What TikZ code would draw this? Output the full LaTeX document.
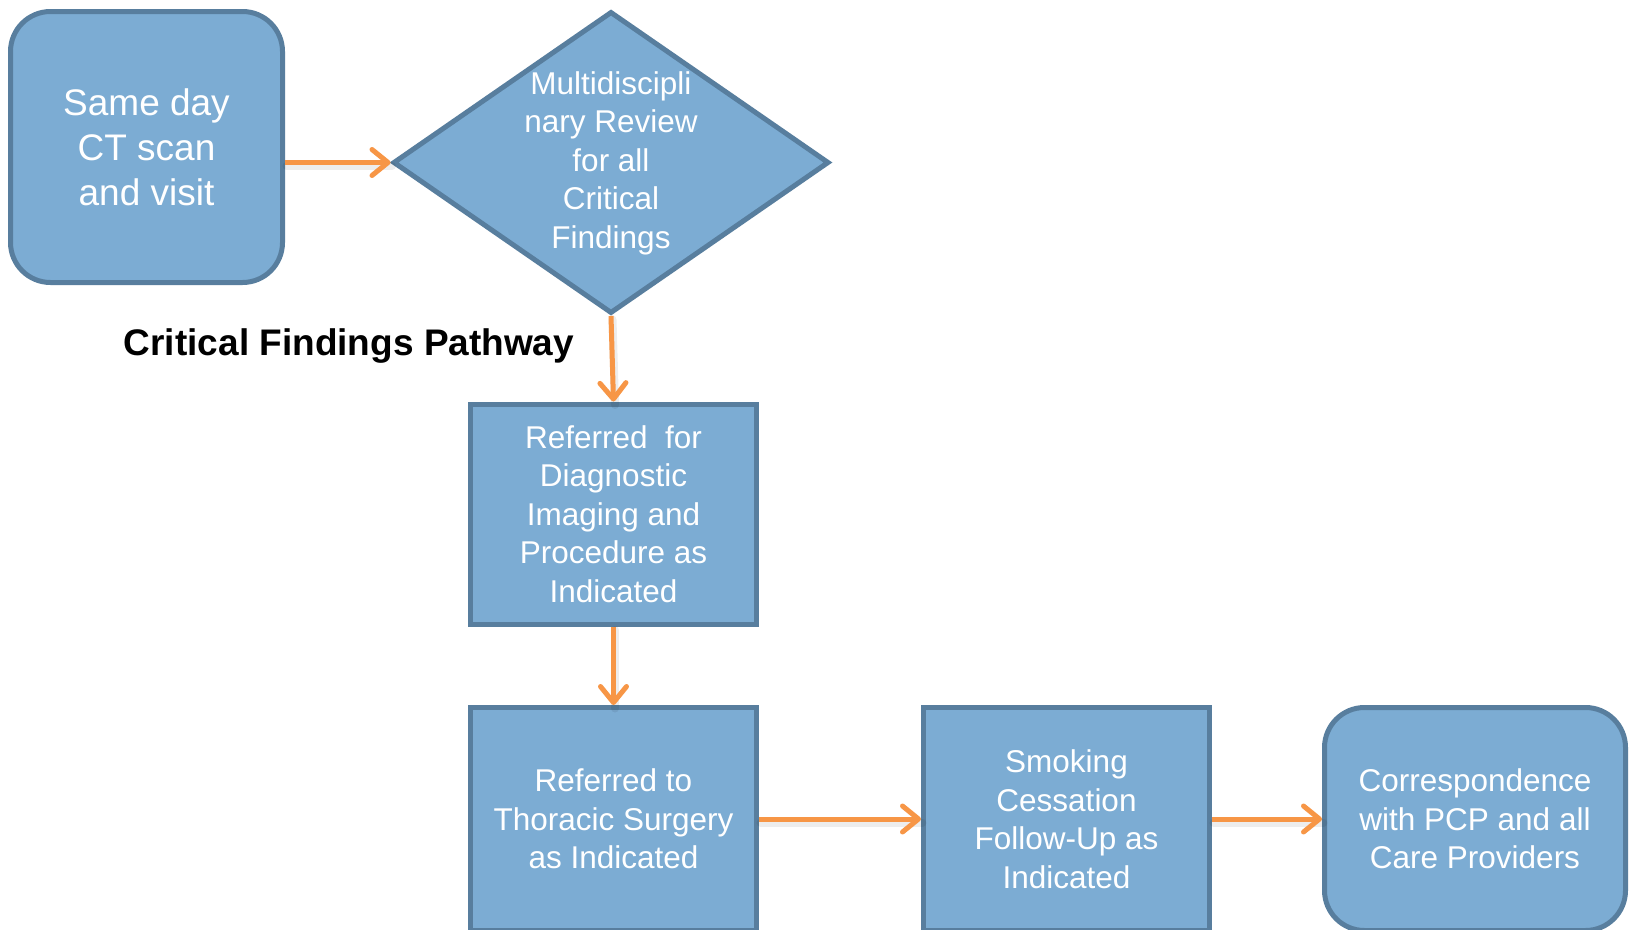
\documentclass[tikz,border=0pt]{standalone}
\usepackage{fontspec}
\setmainfont{Liberation Sans}
\usetikzlibrary{shapes.geometric,arrows.meta}

\definecolor{boxfill}{RGB}{124,172,211}
\definecolor{boxline}{RGB}{88,126,158}
\definecolor{arrowc}{RGB}{247,150,70}

\tikzset{
  flowbox/.style={rectangle, draw=boxline, fill=boxfill, line width=5pt,
    minimum width=286pt, minimum height=220pt, inner sep=0pt,
    text=white, align=center, font=\fontsize{31.5}{38.5}\selectfont},
  lowbox/.style={flowbox, minimum height=223pt},
  roundbox/.style={flowbox, rounded corners=40pt},
  decision/.style={diamond, draw=boxline, fill=boxfill, line width=5pt,
    minimum width=436pt, minimum height=302pt, inner sep=0pt},
  boxtext/.style={text=white, align=center, inner sep=0pt,
    font=\fontsize{31.5}{38.5}\selectfont},
  flowarrow/.style={draw=arrowc, line width=5pt,
    -{Straight Barb[length=16pt,width=26pt,round]}},
  flowshadow/.style={draw=black, line width=8pt, opacity=0.07,
    line cap=round, transform canvas={shift={(1.5pt,-3.5pt)}}}
}

\begin{document}
\begin{tikzpicture}[x=1pt,y=-1pt]
  \clip (0,0) rectangle (1630,929);
  \fill[white] (0,0) rectangle (1630,929);

  % process steps
  \node[roundbox, minimum width=272pt, minimum height=271pt,
        font=\fontsize{37}{45}\selectfont] (ct) at (146.5,147)
        {Same day\\CT scan\\and visit};
  \node[decision] (rev) at (611,162.5) {};
  \node[boxtext] (revtext) at (611,163)
        {Multidiscipli\\nary Review\\for all\\Critical\\Findings};
  \node[flowbox] (diag) at (613.5,514)
        {Referred\ \ for\\Diagnostic\\Imaging and\\Procedure as\\Indicated};
  \node[lowbox] (surg) at (613.5,819)
        {Referred to\\Thoracic Surgery\\as Indicated};
  \node[lowbox] (smok) at (1066.5,819)
        {Smoking\\Cessation\\Follow-Up as\\Indicated};
  \node[lowbox, rounded corners=40pt, minimum width=301pt] (corr) at (1475,819)
        {Correspondence\\with PCP and all\\Care Providers};

  % pathway title
  \node[font=\bfseries\fontsize{37}{44}\selectfont, anchor=base, inner sep=0pt]
        (title) at (349,355) {Critical Findings Pathway};

  % connector shadows
  \draw[flowshadow] (ct.east |- rev.west) -- (rev.west);
  \draw[flowshadow] (rev.south) -- (diag.north);
  \draw[flowshadow] (diag.south) -- (surg.north);
  \draw[flowshadow] (surg.east) -- (smok.west);
  \draw[flowshadow] (smok.east) -- (corr.west);

  % connectors
  \draw[flowarrow] (ct.east |- rev.west) -- (rev.west);
  \draw[flowarrow] (rev.south) -- (diag.north);
  \draw[flowarrow] (diag.south) -- (surg.north);
  \draw[flowarrow] (surg.east) -- (smok.west);
  \draw[flowarrow] (smok.east) -- (corr.west);
\end{tikzpicture}
\end{document}
